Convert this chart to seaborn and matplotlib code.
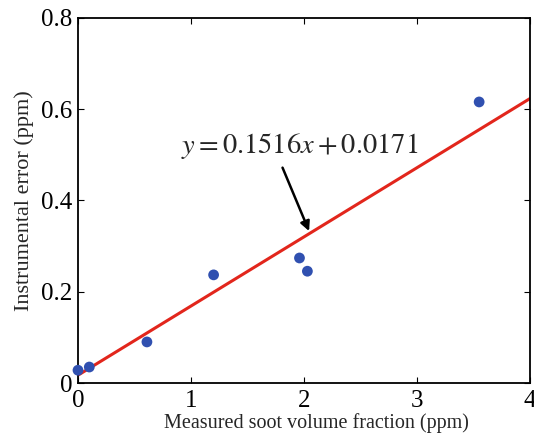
import numpy as np
import pandas as pd
import matplotlib
matplotlib.use("Agg")
import matplotlib.pyplot as plt
import seaborn as sns

# Data
soot_ppm = [0.0, 0.10, 0.61, 1.20, 1.96, 2.03, 3.55]
error_ppm = [0.028, 0.035, 0.090, 0.237, 0.274, 0.245, 0.616]
slope = 0.1516
intercept = 0.0171
fit_x = [0.0, 4.0]
x_ticks = [0, 1, 2, 3, 4]
y_ticks = [0, 0.2, 0.4, 0.6, 0.8]
y_tick_labels = ["0", "0.2", "0.4", "0.6", "0.8"]

sns.set_style("ticks")
plt.rcParams["font.family"] = ["Liberation Serif", "DejaVu Serif"]
plt.rcParams["mathtext.fontset"] = "stix"

fig = plt.figure(figsize=(5.34, 4.36), dpi=100)
ax = fig.add_axes([78 / 534, 1 - 383 / 436, (530 - 78) / 534, (383 - 18) / 436])

fit_df = pd.DataFrame({"x": fit_x, "y": [slope * v + intercept for v in fit_x]})
sns.lineplot(data=fit_df, x="x", y="y", ax=ax, color="#e2261c", linewidth=2.2, zorder=2)

df = pd.DataFrame({"x": soot_ppm, "y": error_ppm})
sns.scatterplot(data=df, x="x", y="y", ax=ax, color="#3050b0", s=60,
                edgecolor="none", zorder=3, clip_on=False)

ax.set_xlim(0, 4)
ax.set_ylim(0, 0.8)
ax.set_xticks(x_ticks)
ax.set_xticklabels([str(t) for t in x_ticks])
ax.set_yticks(y_ticks)
ax.set_yticklabels(y_tick_labels)
ax.tick_params(direction="in", top=True, right=True, length=4, width=0.8,
               labelsize=18, colors="black")
ax.tick_params(axis="x", pad=5)
ax.tick_params(axis="y", pad=4)
for sp in ax.spines.values():
    sp.set_linewidth(1.3)
    sp.set_color("black")

ax.set_xlabel("Measured soot volume fraction (ppm)", fontsize=14.5, labelpad=3)
ax.xaxis.set_label_coords(0.528, -0.083)
ax.set_ylabel("Instrumental error (ppm)", fontsize=16, labelpad=5)

ax.text(1.96, 0.52, r"$y = 0.1516x + 0.0171$", fontsize=20.5,
        ha="center", va="center")
ax.annotate("", xy=(2.045, 0.333), xytext=(1.81, 0.472),
            arrowprops=dict(arrowstyle="-|>", color="black", lw=1.8,
                            mutation_scale=14, shrinkA=0, shrinkB=0))

fig.savefig("out.png", dpi=100)
